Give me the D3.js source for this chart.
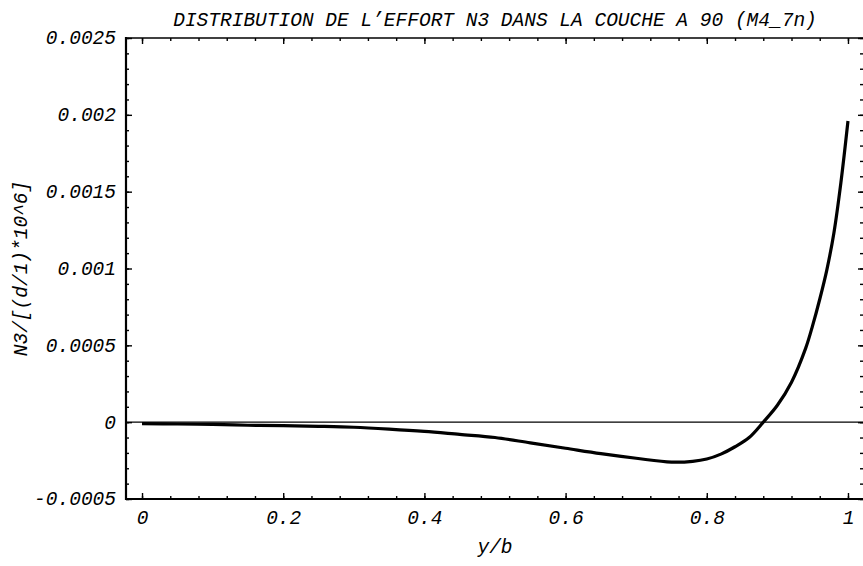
<!DOCTYPE html>
<html>
<head>
<meta charset="utf-8">
<script src="https://cdn.jsdelivr.net/npm/d3@7"></script>
<style>
  html, body { margin: 0; padding: 0; background: #fff; }
  svg { display: block; }
  .tick text { font-family: "Liberation Mono", "DejaVu Sans Mono", monospace; font-style: italic; }
</style>
</head>
<body>
<div id="chart"></div>
<script>
// y/b positions and the N3 values
const yb = [0, 0.05, 0.1, 0.15, 0.2, 0.25, 0.3, 0.35, 0.4, 0.45, 0.5, 0.55, 0.6, 0.65, 0.7,
            0.75, 0.78, 0.8, 0.82, 0.84, 0.86, 0.88, 0.9, 0.92, 0.94, 0.95, 0.96, 0.97, 0.98, 0.99, 1.0];
const n3 = [-0.00001, -0.000012, -0.000015, -0.00002, -0.000023, -0.000027, -0.000033, -0.000045,
            -0.00006, -0.00008, -0.0001, -0.000135, -0.00017, -0.000205, -0.000235,
            -0.00026, -0.000255, -0.00024, -0.000208, -0.00016, -0.0001, 0.0,
            0.00011, 0.00026, 0.00048, 0.00063, 0.0008, 0.00099, 0.00123, 0.00156, 0.00196];

const xTicks = [0, 0.2, 0.4, 0.6, 0.8, 1];
const xMinor = d3.range(0, 1.001, 0.04);
const yTicks = [-0.0005, 0, 0.0005, 0.001, 0.0015, 0.002, 0.0025];
const yTickLabels = ["-0.0005", "0", "0.0005", "0.001", "0.0015", "0.002", "0.0025"];
const yMinor = d3.range(-0.0005, 0.00251, 0.0001);
const xDomain = [-0.0227, 1.0227];
const yDomain = [-0.0005, 0.0025];

const title = "DISTRIBUTION DE L\u2019EFFORT N3 DANS LA COUCHE A 90 (M4_7n)";
const xTitle = "y/b";
const yTitle = "N3/[(d/1)*10^6]";

const width = 863, height = 566;
const mLeft = 126, mRight = 864, mTop = 38, mBottom = 499;
const font = "'Liberation Mono', 'DejaVu Sans Mono', monospace";
const fs = 19.5;

const svg = d3.select("#chart").append("svg")
  .attr("width", width).attr("height", height)
  .style("font-family", font);

const x = d3.scaleLinear().domain(xDomain).range([mLeft, mRight]);
const y = d3.scaleLinear().domain(yDomain).range([mBottom, mTop]);

// zero line
svg.append("line")
  .attr("x1", mLeft).attr("x2", mRight)
  .attr("y1", y(0)).attr("y2", y(0))
  .attr("stroke", "#000").attr("stroke-width", 1.2);

// curve
const line = d3.line()
  .x((d, i) => x(yb[i]))
  .y(d => y(d))
  .curve(d3.curveCatmullRom.alpha(0.5));

svg.append("path")
  .datum(n3)
  .attr("d", line)
  .attr("fill", "none")
  .attr("stroke", "#000")
  .attr("stroke-width", 3.2)
  .attr("stroke-linejoin", "round");

function styleAxis(g){
  g.select(".domain").remove();
  g.selectAll(".tick line").attr("stroke", "#000").attr("stroke-width", 1.4);
}

// bottom axis
svg.append("g").attr("transform", `translate(0,${mBottom})`)
  .call(d3.axisBottom(x).tickValues(xMinor).tickSize(-3).tickFormat(""))
  .call(styleAxis);
svg.append("g").attr("transform", `translate(0,${mBottom})`)
  .call(d3.axisBottom(x).tickValues(xTicks).tickSize(-6).tickPadding(15).tickFormat(d => d3.format("")(d)))
  .call(styleAxis)
  .call(g => g.selectAll(".tick text").attr("font-size", fs).attr("fill", "#000").attr("dy", "0.5em"));

// top axis
svg.append("g").attr("transform", `translate(0,${mTop})`)
  .call(d3.axisTop(x).tickValues(xMinor).tickSize(-3).tickFormat(""))
  .call(styleAxis);
svg.append("g").attr("transform", `translate(0,${mTop})`)
  .call(d3.axisTop(x).tickValues(xTicks).tickSize(-6).tickFormat(""))
  .call(styleAxis);

// left axis
svg.append("g").attr("transform", `translate(${mLeft},0)`)
  .call(d3.axisLeft(y).tickValues(yMinor).tickSize(-3).tickFormat(""))
  .call(styleAxis);
svg.append("g").attr("transform", `translate(${mLeft},0)`)
  .call(d3.axisLeft(y).tickValues(yTicks).tickSize(-6).tickPadding(10)
    .tickFormat((d, i) => yTickLabels[i]))
  .call(styleAxis)
  .call(g => g.selectAll(".tick text").attr("font-size", fs).attr("fill", "#000").attr("dy", "0.3em"));

// right axis (ticks only)
svg.append("g").attr("transform", `translate(${mRight},0)`)
  .call(d3.axisRight(y).tickValues(yMinor).tickSize(-4).tickFormat(""))
  .call(styleAxis);
svg.append("g").attr("transform", `translate(${mRight},0)`)
  .call(d3.axisRight(y).tickValues(yTicks).tickSize(-6).tickFormat(""))
  .call(styleAxis);

// frame
svg.append("line").attr("x1", mLeft).attr("x2", mLeft).attr("y1", mTop - 1).attr("y2", mBottom + 1)
  .attr("stroke", "#000").attr("stroke-width", 2.2);
svg.append("line").attr("x1", mLeft).attr("x2", mRight).attr("y1", mTop).attr("y2", mTop)
  .attr("stroke", "#000").attr("stroke-width", 1.6);
svg.append("line").attr("x1", mLeft).attr("x2", mRight).attr("y1", mBottom).attr("y2", mBottom)
  .attr("stroke", "#000").attr("stroke-width", 1.8);

// titles
svg.append("text")
  .attr("x", (mLeft + mRight) / 2).attr("y", 26)
  .attr("text-anchor", "middle")
  .attr("font-size", fs).attr("font-style", "italic")
  .text(title);

svg.append("text")
  .attr("x", (mLeft + mRight) / 2).attr("y", 553)
  .attr("text-anchor", "middle")
  .attr("font-size", fs).attr("font-style", "italic")
  .text(xTitle);

svg.append("text")
  .attr("transform", `translate(27,${(mTop + mBottom) / 2}) rotate(-90)`)
  .attr("text-anchor", "middle")
  .attr("font-size", fs).attr("font-style", "italic")
  .text(yTitle);
</script>
</body>
</html>
